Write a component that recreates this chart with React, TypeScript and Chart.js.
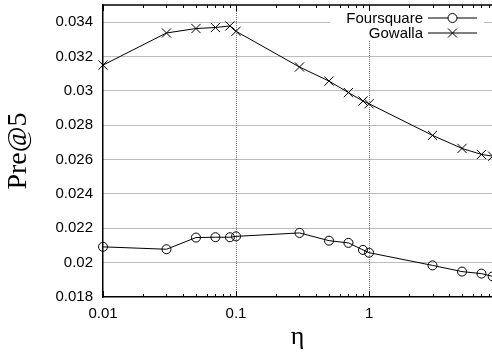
import React, { useEffect, useRef } from "react";
import { Chart, registerables } from "chart.js";

Chart.register(...registerables);

const etaValues = [0.01, 0.03, 0.05, 0.07, 0.09, 0.1, 0.3, 0.5, 0.7, 0.9, 1, 3, 5, 7, 8.5];
const foursquareValues = [0.02092, 0.02078, 0.02146, 0.02148, 0.02148, 0.02153, 0.02173, 0.02128, 0.02115, 0.02074, 0.02058, 0.01984, 0.01948, 0.01936, 0.0192];
const gowallaValues = [0.0315, 0.03337, 0.03363, 0.03369, 0.03378, 0.03347, 0.03139, 0.03057, 0.0299, 0.02941, 0.02925, 0.02741, 0.02665, 0.0263, 0.0262];
const seriesNames = ["Foursquare", "Gowalla"];

const xMajorTicks = [0.01, 0.1, 1];
const xTickValues = [
  0.01, 0.02, 0.03, 0.04, 0.05, 0.06, 0.07, 0.08, 0.09,
  0.1, 0.2, 0.3, 0.4, 0.5, 0.6, 0.7, 0.8, 0.9,
  1, 2, 3, 4, 5, 6, 7, 8,
];
const yTickValues = [0.018, 0.02, 0.022, 0.024, 0.026, 0.028, 0.03, 0.032, 0.034];

const X_MIN = 0.01;
const X_MAX = 8.4;
const Y_MIN = 0.018;
const Y_MAX = 0.035;

const isMajor = (v: number) => xMajorTicks.some((m) => Math.abs(m - v) < m * 1e-6);

const SANS = "'Liberation Sans', Arial, sans-serif";
const SERIF = "'Liberation Serif', 'Times New Roman', serif";

const gnuplotDecor = {
  id: "gnuplotDecor",
  afterDraw(chart: any) {
    const { ctx, chartArea } = chart;
    const xs = chart.scales.x;
    ctx.save();
    const boxL = 330, boxR = 484, boxT = 11, boxB = 40;
    ctx.fillStyle = "#fff";
    ctx.fillRect(boxL, boxT, boxR - boxL, boxB - boxT);
    const textRight = 423;
    const lineL = 428, lineR = 477;
    const rows = [18, 33];
    ctx.font = `15px ${SANS}`;
    ctx.textAlign = "right";
    ctx.textBaseline = "middle";
    rows.forEach((yy, i) => {
      ctx.fillStyle = "#000";
      ctx.fillText(seriesNames[i], textRight, yy + 1);
      ctx.strokeStyle = "#000";
      ctx.lineWidth = 1;
      ctx.beginPath();
      ctx.moveTo(lineL, yy);
      ctx.lineTo(lineR, yy);
      ctx.stroke();
      const cx = (lineL + lineR) / 2;
      ctx.beginPath();
      if (i === 0) {
        ctx.fillStyle = "#fff";
        ctx.arc(cx, yy, 4.5, 0, Math.PI * 2);
        ctx.fill();
        ctx.stroke();
      } else {
        const d = 4.5;
        ctx.moveTo(cx - d, yy - d);
        ctx.lineTo(cx + d, yy + d);
        ctx.moveTo(cx - d, yy + d);
        ctx.lineTo(cx + d, yy - d);
        ctx.stroke();
      }
    });
    ctx.strokeStyle = "#000";
    ctx.lineWidth = 1.5;
    ctx.beginPath();
    ctx.moveTo(chartArea.left, chartArea.top);
    ctx.lineTo(chartArea.right + 2, chartArea.top);
    ctx.stroke();
    ctx.lineWidth = 1;
    xTickValues.forEach((v) => {
      const px = Math.round(xs.getPixelForValue(v)) + 0.5;
      if (px < chartArea.left - 1 || px > chartArea.right + 1) return;
      const len = isMajor(v) ? 6 : 3;
      ctx.beginPath();
      ctx.moveTo(px, chartArea.bottom);
      ctx.lineTo(px, chartArea.bottom - len);
      ctx.moveTo(px, chartArea.top);
      ctx.lineTo(px, chartArea.top + len);
      ctx.stroke();
    });
    ctx.restore();
  },
};

export default function App() {
  const ref = useRef<HTMLCanvasElement | null>(null);

  useEffect(() => {
    if (!ref.current) return;
    const chart = new Chart(ref.current, {
      type: "line",
      data: {
        datasets: [
          {
            label: seriesNames[0],
            data: etaValues.map((x, i) => ({ x, y: foursquareValues[i] })),
            borderColor: "#000",
            borderWidth: 1,
            backgroundColor: "rgba(0,0,0,0)",
            pointStyle: "circle",
            pointRadius: 4.5,
            pointBorderWidth: 1,
            pointBorderColor: "#000",
            pointBackgroundColor: "rgba(0,0,0,0)",
            tension: 0,
            clip: false as any,
          },
          {
            label: seriesNames[1],
            data: etaValues.map((x, i) => ({ x, y: gowallaValues[i] })),
            borderColor: "#000",
            borderWidth: 1,
            backgroundColor: "rgba(0,0,0,0)",
            pointStyle: "crossRot",
            pointRadius: 6.5,
            pointBorderWidth: 1,
            pointBorderColor: "#000",
            tension: 0,
            clip: false as any,
          },
        ],
      },
      options: {
        animation: false,
        responsive: false,
        devicePixelRatio: 1,
        layout: { autoPadding: false, padding: { left: 0, right: 0, top: 5, bottom: 0 } },
        plugins: { legend: { display: false }, tooltip: { enabled: false } },
        scales: {
          x: {
            type: "logarithmic",
            min: X_MIN,
            max: X_MAX,
            afterBuildTicks: (s: any) => {
              s.ticks = xTickValues.map((v) => ({ value: v, major: isMajor(v) }));
            },
            afterFit: (s: any) => {
              s.height = 56;
              s.paddingLeft = 0;
              s.paddingRight = 0;
            },
            ticks: {
              autoSkip: false,
              maxRotation: 0,
              padding: 8,
              color: "#000",
              font: { family: SANS, size: 15 },
              callback: (v: any) => (isMajor(Number(v)) ? String(Number(v)) : ""),
            },
            grid: {
              drawTicks: false,
              color: (c: any) => (c.tick && isMajor(c.tick.value) && c.tick.value > X_MIN ? "#777" : "rgba(0,0,0,0)"),
              lineWidth: 1,
            },
            border: { display: true, color: "#000", width: 1.5, dash: [1, 1] },
            title: {
              display: true,
              text: "η",
              color: "#000",
              font: { family: SERIF, size: 26 },
              padding: { top: 0, bottom: 0 },
            },
          },
          y: {
            type: "linear",
            min: Y_MIN,
            max: Y_MAX,
            afterBuildTicks: (s: any) => {
              s.ticks = yTickValues.map((v) => ({ value: v }));
            },
            afterFit: (s: any) => {
              s.width = 103;
              s.paddingTop = 0;
              s.paddingBottom = 0;
            },
            ticks: {
              padding: 10,
              color: "#000",
              font: { family: SANS, size: 15 },
              callback: (v: any) => String(Number(Number(v).toFixed(3))),
            },
            grid: {
              drawTicks: false,
              color: (c: any) => (c.tick && c.tick.value > Y_MIN + 1e-9 ? "#777" : "rgba(0,0,0,0)"),
              lineWidth: 1,
            },
            border: { display: true, color: "#000", width: 1.5, dash: [1, 1] },
            title: {
              display: true,
              text: "Pre@5",
              color: "#000",
              font: { family: SERIF, size: 28 },
              padding: { top: 2, bottom: 0 },
            },
          },
        },
      },
      plugins: [gnuplotDecor],
    });
    return () => chart.destroy();
  }, []);

  return (
    <div style={{ position: "fixed", left: 0, top: 0, width: 492, height: 353, overflow: "hidden", background: "#fff" }}>
      <canvas ref={ref} width={492} height={353} style={{ display: "block", width: 492, height: 353 }} />
    </div>
  );
}
